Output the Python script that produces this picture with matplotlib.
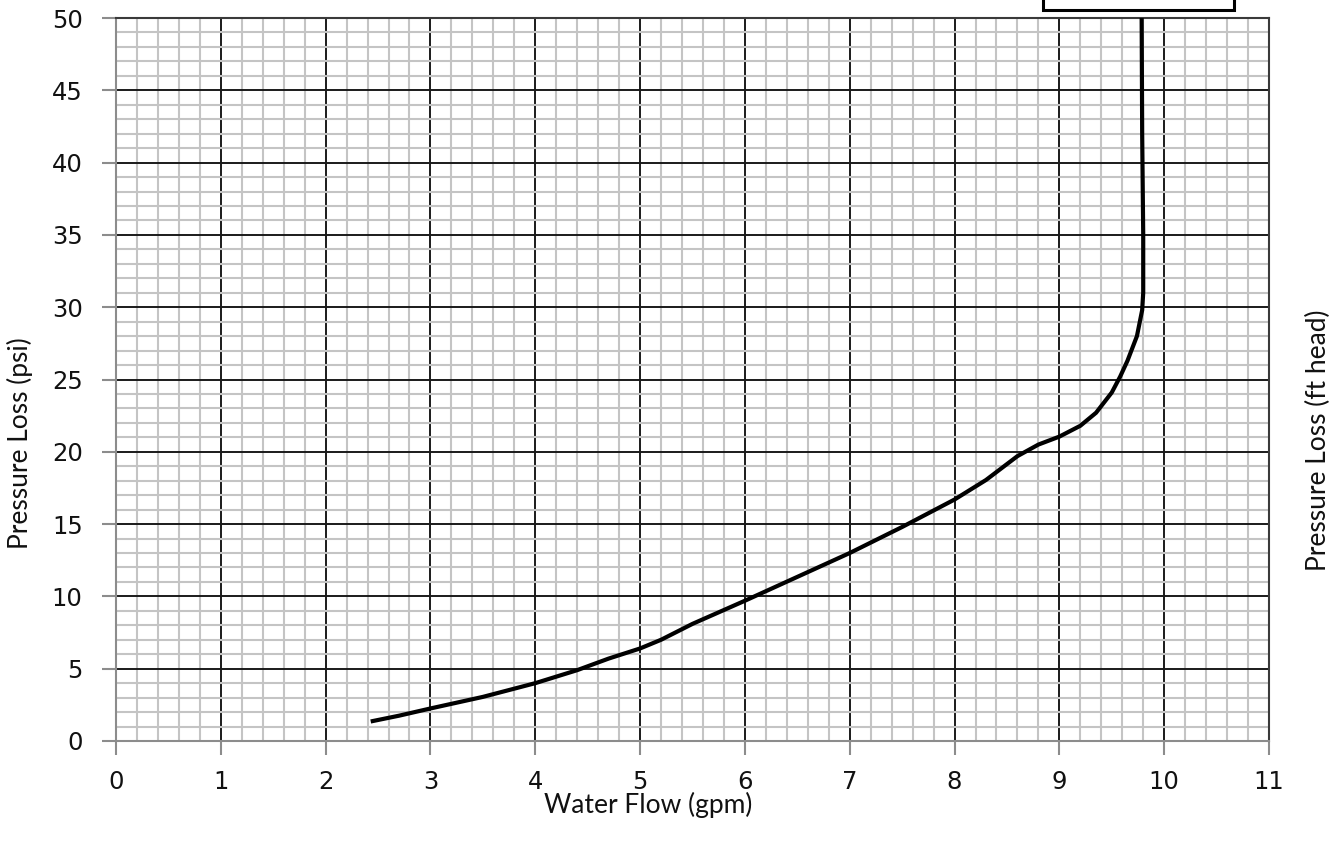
import matplotlib
matplotlib.use("Agg")
import matplotlib.pyplot as plt
from matplotlib.patches import Rectangle
from matplotlib.ticker import MultipleLocator
import numpy as np

# Data
flow_gpm = [2.43, 2.7, 3.0, 3.5, 4.0, 4.4, 4.7, 5.0, 5.2, 5.5, 6.0, 6.5, 7.0, 7.5,
            8.0, 8.3, 8.6, 8.8, 9.0, 9.2, 9.35, 9.5, 9.58, 9.65, 9.74, 9.79, 9.80,
            9.80, 9.79, 9.785]
loss_psi = [1.35, 1.75, 2.25, 3.05, 4.0, 4.9, 5.7, 6.4, 7.0, 8.1, 9.7, 11.35, 13.0, 14.8,
            16.7, 18.05, 19.7, 20.5, 21.05, 21.8, 22.7, 24.1, 25.2, 26.3, 28.0, 29.8, 31.0,
            35.0, 42.0, 50.0]
x_ticks = list(range(0, 12))
y_ticks = list(range(0, 51, 5))

W, H = 1341, 851
fig = plt.figure(figsize=(W / 100, H / 100), dpi=100)
ax = fig.add_axes([116 / W, 1 - 741 / H, (1269 - 116) / W, (741 - 18) / H])

ax.set_xlim(0, 11)
ax.set_ylim(0, 50)
ax.set_xticks(x_ticks)
ax.set_yticks(y_ticks)
ax.xaxis.set_minor_locator(MultipleLocator(0.2))
ax.yaxis.set_minor_locator(MultipleLocator(1))

ax.grid(which="minor", color="#c4c4c4", linewidth=1.5, zorder=0)
ax.grid(which="major", color="#1a1a1a", linewidth=1.4, zorder=1)
ax.set_axisbelow(True)

ax.plot(flow_gpm, loss_psi, color="black", linewidth=3.0, solid_capstyle="butt",
        solid_joinstyle="round", zorder=3)

for s in ["left", "bottom"]:
    ax.spines[s].set_color("#8c8c8c")
    ax.spines[s].set_linewidth(1.5)
for s in ["right", "top"]:
    ax.spines[s].set_color("#3a3a3a")
    ax.spines[s].set_linewidth(1.5)

ax.tick_params(axis="both", which="major", length=10, width=1.5, color="#8c8c8c",
               labelsize=17.5, labelcolor="#111111")
ax.tick_params(axis="x", which="major", pad=11)
ax.tick_params(axis="y", which="major", pad=14)
ax.tick_params(which="minor", length=0)
for lab in ax.get_xticklabels() + ax.get_yticklabels():
    lab.set_family("DejaVu Sans")

lab_font = dict(family=["Lato", "DejaVu Sans"], fontsize=19, color="#111111")
fig.text(648 / W, 1 - 813 / H, "Water Flow (gpm)", ha="center", va="baseline", **lab_font)
fig.text(20 / W, 1 - 443 / H, "Pressure Loss (psi)", ha="center", va="center",
         rotation=90, **lab_font)
fig.text(1318 / W, 1 - 440 / H, "Pressure Loss (ft head)", ha="center", va="center",
         rotation=90, **lab_font)

# clipped text box at the top edge
fig.patches.append(Rectangle((1043 / W, 1 - 10 / H), (1234 - 1043) / W, 40 / H,
                             transform=fig.transFigure, facecolor="white",
                             edgecolor="black", linewidth=2.2, zorder=5))

fig.savefig("out.png", dpi=100)
